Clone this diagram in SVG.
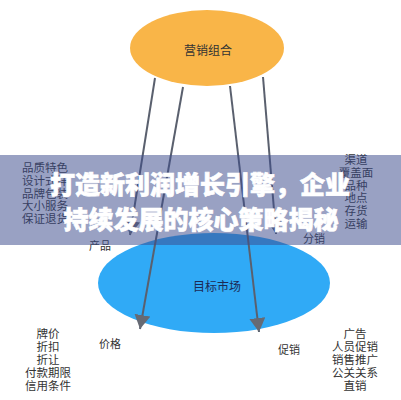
<svg xmlns="http://www.w3.org/2000/svg" width="401" height="400" viewBox="0 0 401 400">
<defs>
<style>
text{font-family:"Noto Sans CJK SC","Noto Sans",sans-serif;text-anchor:middle;dominant-baseline:central}
.lbl{font-size:11px;fill:#333}
.lst{font-size:11.5px;fill:#333}
.con{stroke:#5a606e;stroke-width:2;fill:none;marker-end:url(#ah)}
.title{font-size:25px;font-weight:900;fill:#fff;stroke:#fff;stroke-width:0.7}
</style>
<marker id="ah" markerUnits="userSpaceOnUse" viewBox="0 0 16 16" refX="14" refY="8" markerWidth="16" markerHeight="16" orient="auto">
<path d="M0,0 L14,8 L0,16 Z" fill="#666a74"/>
</marker>
</defs>
<rect width="401" height="400" fill="#fff"/>
<g id="node-target">
<ellipse cx="214" cy="283" rx="116" ry="50" fill="#30aaf6"/>
<text x="217" y="285" style="font-size:12px;fill:#1c2b55">目标市场</text>
</g>
<g id="node-mix">
<ellipse cx="207" cy="48" rx="77" ry="38" fill="#f9b548"/>
<text x="208" y="49" style="font-size:12px;fill:#333">营销组合</text>
</g>
<g id="connectors">
<path class="con" d="M155,78 L130,235"/>
<path class="con" d="M183,87 L140,329"/>
<path class="con" d="M230,86 L259,332"/>
<path class="con" d="M263,77 L276,234"/>
</g>
<g id="node-product">
<text class="lbl" x="100" y="245">产品</text>
<text class="lst" x="45" y="167">品质特色</text>
<text class="lst" x="45" y="180">设计式样</text>
<text class="lst" x="45" y="193">品牌包装</text>
<text class="lst" x="45" y="205">大小服务</text>
<text class="lst" x="45" y="218">保证退货</text>
</g>
<g id="node-place">
<text class="lbl" x="314" y="238">分销</text>
<text class="lst" x="356" y="159">渠道</text>
<text class="lst" x="356" y="172">覆盖面</text>
<text class="lst" x="356" y="185">品种</text>
<text class="lst" x="356" y="197">地点</text>
<text class="lst" x="356" y="210">存货</text>
<text class="lst" x="356" y="223">运输</text>
</g>
<g id="node-price">
<text class="lbl" x="110" y="343">价格</text>
<text class="lst" x="48" y="333">牌价</text>
<text class="lst" x="48" y="346">折扣</text>
<text class="lst" x="48" y="359">折让</text>
<text class="lst" x="48" y="372">付款期限</text>
<text class="lst" x="48" y="385">信用条件</text>
</g>
<g id="node-promotion">
<text class="lbl" x="289" y="349">促销</text>
<text class="lst" x="355" y="333">广告</text>
<text class="lst" x="355" y="346">人员促销</text>
<text class="lst" x="355" y="359">销售推广</text>
<text class="lst" x="355" y="372">公关关系</text>
<text class="lst" x="355" y="385">直销</text>
</g>
<g id="banner">
<rect x="0" y="155" width="401" height="90" fill="rgb(60,75,140)" fill-opacity="0.52"/>
<text class="title" x="200" y="183">打造新利润增长引擎，企业</text>
<text class="title" x="201" y="218">持续发展的核心策略揭秘</text>
</g>
</svg>
